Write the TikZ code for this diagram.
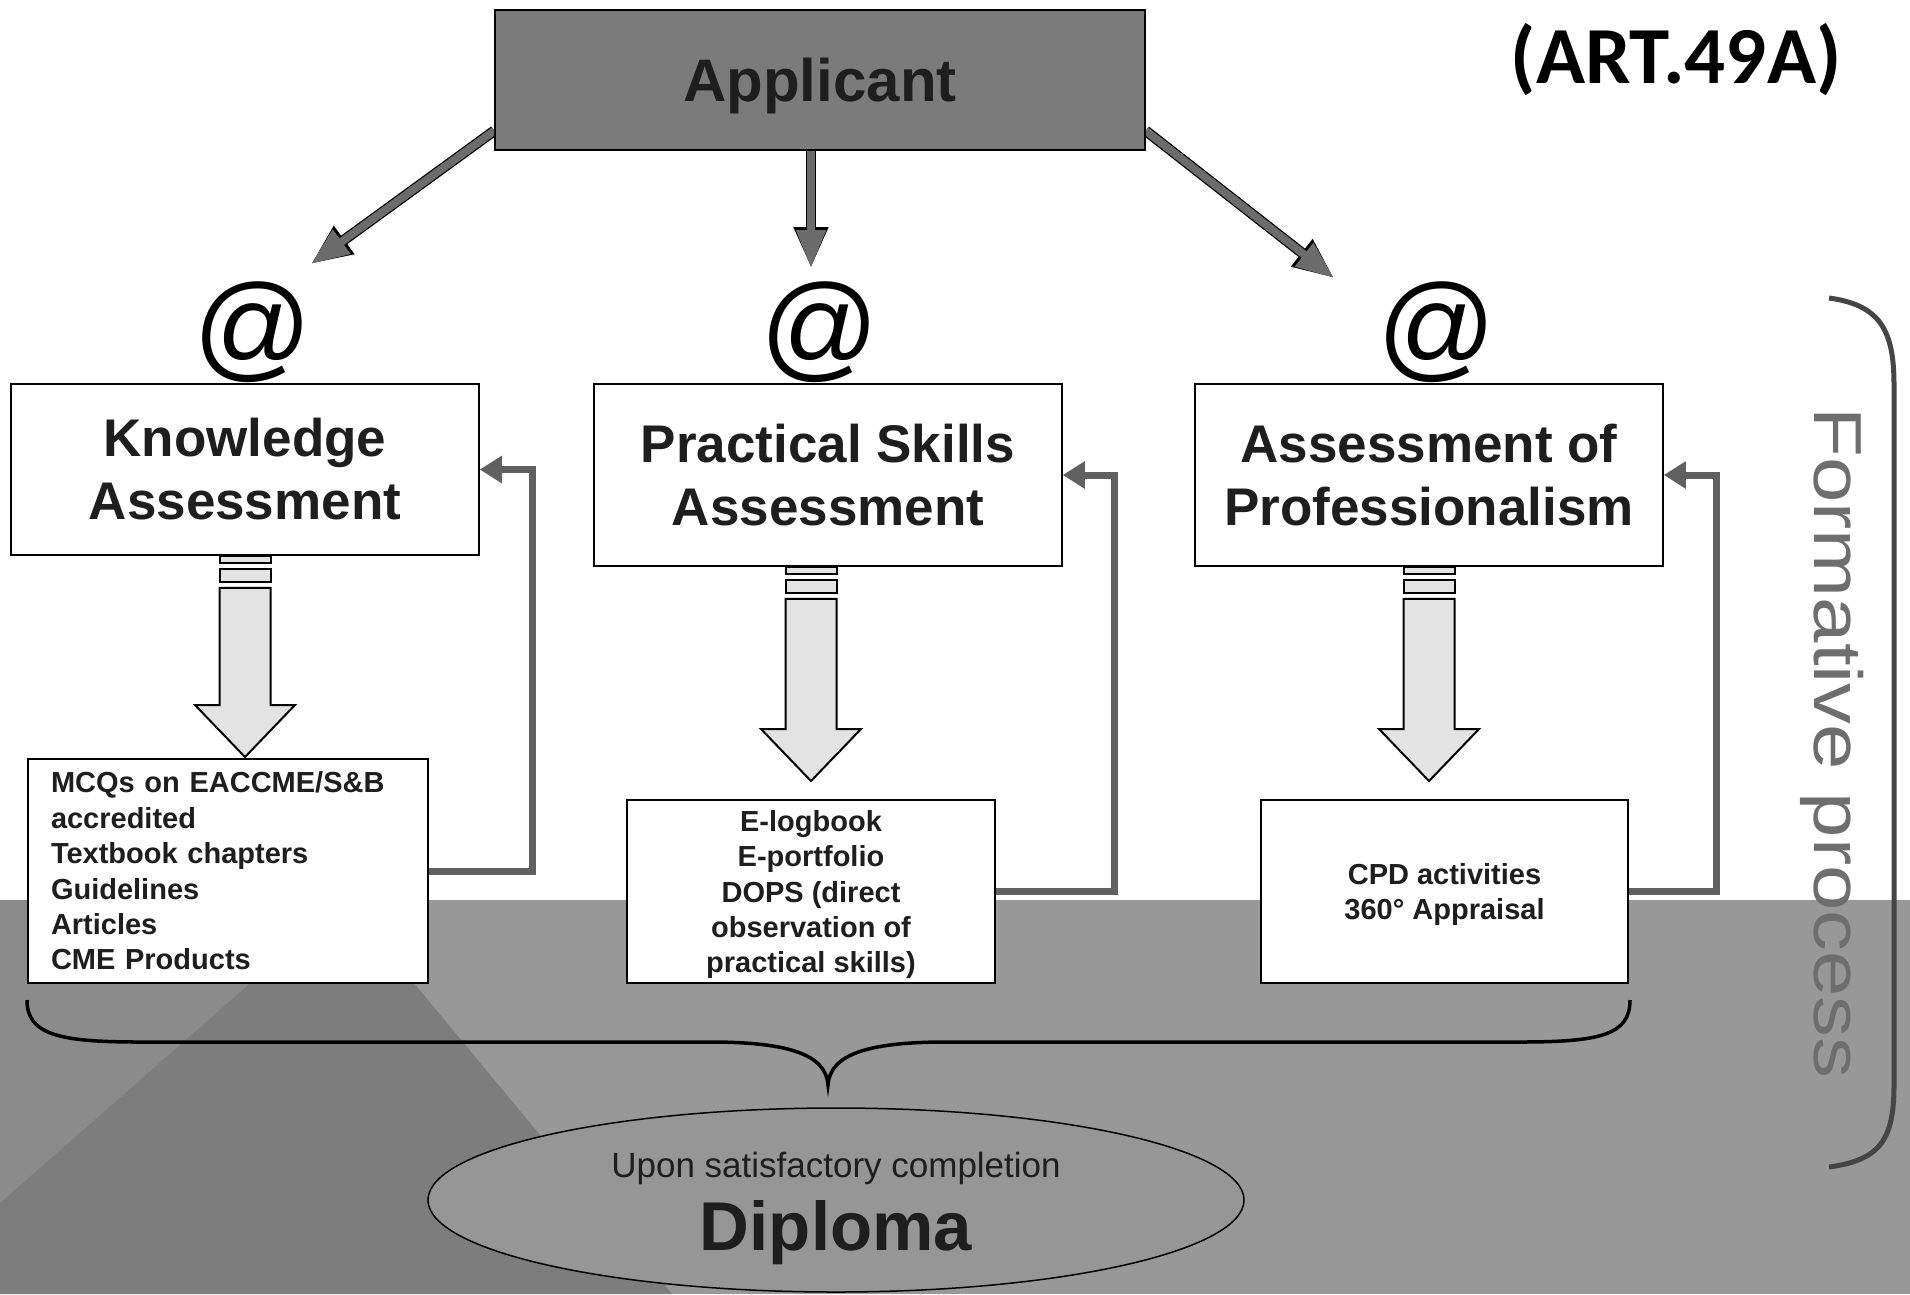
\documentclass[tikz,border=0pt]{standalone}
\usepackage{fontspec}
\setmainfont{Liberation Sans}
\newfontfamily\artfont{Carlito}
\usetikzlibrary{arrows.meta,calc,shapes.geometric,backgrounds}

\definecolor{appgray}{HTML}{7B7B7B}
\definecolor{arrowgray}{HTML}{6C6C6C}
\definecolor{fbgray}{HTML}{606060}
\definecolor{hollowgray}{HTML}{E3E3E3}
\definecolor{bandA}{HTML}{8B8B8B}
\definecolor{bandB}{HTML}{7D7D7D}
\definecolor{bandC}{HTML}{989898}
\definecolor{ellgray}{HTML}{969696}
\definecolor{txtdark}{HTML}{1E1E1E}
\definecolor{formgray}{HTML}{6E6E6E}
\definecolor{bracketgray}{HTML}{454545}

\tikzset{
  applbox/.style={draw=black, line width=1.5pt, fill=appgray, minimum width=650pt, minimum height=140pt,
    text depth=0pt, text=txtdark, font=\fontsize{60}{60}\selectfont\bfseries},
  assessbox/.style={draw=black, line width=1.5pt, fill=white, minimum width=468pt, align=center,
    text=txtdark, font=\fontsize{53}{63}\selectfont\bfseries},
  listbox/.style={draw=black, line width=2pt, fill=white, text=txtdark,
    font=\fontsize{29}{35.4}\selectfont\bfseries},
  atsign/.style={inner sep=0pt, anchor=south, font=\fontsize{117}{117}\selectfont},
  fatarrow/.style={draw=arrowgray, line width=8pt, -{Triangle[length=38pt,width=28pt]},
    preaction={draw=black, line width=10.5pt, -{Triangle[length=41pt,width=32pt]}}},
  fbarrow/.style={draw=fbgray, line width=7pt, -{Triangle[length=22pt,width=26pt]}},
  hollow/.style={draw=black, line width=2pt, fill=hollowgray, line join=miter},
}

\begin{document}
\begin{tikzpicture}[x=1pt,y=-1pt]
  \useasboundingbox (0,0) rectangle (1910,1294);

  \node[applbox] (app) at (820,80) {Applicant};
  \node[font=\artfont\fontsize{81}{81}\selectfont\bfseries] (art) at (1676,60) {(ART.49A)};

  \node[assessbox, minimum height=171pt] (kbox) at (245,469.5) {Knowledge\\Assessment};
  \node[assessbox, minimum height=182pt] (pbox) at (828,475) {Practical Skills\\Assessment};
  \node[assessbox, minimum height=182pt] (abox) at (1429,475) {Assessment of\\Professionalism};

  \node[atsign] (atK) at ([xshift=8pt]kbox.north) {@};
  \node[atsign] (atP) at ([xshift=-8pt]pbox.north) {@};
  \node[atsign] (atA) at ([xshift=8pt]abox.north) {@};

  \node[listbox, text width=354pt, inner xsep=23pt, minimum height=224pt, align=left] (klist) at (228,871)
    {MCQs on EACCME/S\&B\\accredited\\Textbook chapters\\Guidelines\\Articles\\CME Products};
  \node[listbox, text depth=0pt, minimum width=368pt, minimum height=183pt, align=center] (plist) at (811,891.5)
    {E-logbook\\E-portfolio\\DOPS (direct\\observation of\\practical skills)};
  \node[listbox, text depth=0pt, minimum width=367pt, minimum height=183pt, align=center] (alist) at (1444.5,891.5)
    {CPD activities\\360° Appraisal};

  \coordinate (kIn) at (311,264);
  \coordinate (pIn) at (811,268);
  \coordinate (aIn) at (1334,278);

  \begin{scope}[on background layer]
    \fill[white] (0,0) rectangle (1910,1294);
    \fill[bandC] (0,900) rectangle (1910,1294);
    \fill[bandA] (0,900) -- (345,900) -- (0,1203) -- cycle;
    \fill[bandB] (345,900) -- (0,1203) -- (0,1294) -- (672,1294) -- cycle;
    \draw[fatarrow] ([yshift=20pt]app.south west) -- (kIn);
    \draw[fatarrow] ([xshift=-9pt]app.south) -- (pIn);
    \draw[fatarrow] ([yshift=20pt]app.south east) -- (aIn);
  \end{scope}

  \foreach \b/\l/\x/\g in {kbox/klist/245/1, pbox/plist/811/18, abox/alist/1429/18}{
    \coordinate (top) at (\x,0 |- \b.south);
    \coordinate (tip) at ($(\x,0 |- \l.north)+(0,-\g)$);
    \draw[hollow] ($(top)+(-25.5,0)$) rectangle ($(top)+(25.5,7)$);
    \draw[hollow] ($(top)+(-25.5,13)$) rectangle ($(top)+(25.5,26)$);
    \draw[hollow] ($(top)+(-25.5,32)$) -- ($(tip)+(-25.5,-52)$) -- ($(tip)+(-50,-52)$) -- (tip)
      -- ($(tip)+(50,-52)$) -- ($(tip)+(25.5,-52)$) -- ($(top)+(25.5,32)$) -- cycle;
  }

  \draw[fbarrow] (klist.east) -- ++(103,0) |- (kbox.east);
  \draw[fbarrow] (plist.east) -- ++(118,0) |- (pbox.east);
  \draw[fbarrow] (alist.east) -- ++(87,0) |- (abox.east);

  \draw[line width=3.5pt] (27,1000) .. controls (27,1035) and (60,1042) .. (140,1042) -- (710,1042)
    .. controls (790,1042) and (826,1055) .. (828,1085)
    .. controls (830,1055) and (866,1042) .. (946,1042) -- (1520,1042)
    .. controls (1600,1042) and (1630,1035) .. (1630,1000);

  \node[ellipse, draw=black, line width=1.5pt, fill=ellgray, minimum width=816pt, minimum height=184pt,
    inner sep=0pt] (dipl) at (836,1200) {};
  \node[text=txtdark, font=\fontsize{35}{35}\selectfont] (upon) at (836,1168) {Upon satisfactory completion};
  \node[text=txtdark, font=\fontsize{69}{69}\selectfont\bfseries] (diploma) at (836,1233) {Diploma};

  \draw[bracketgray, line width=5pt] (1829,298) .. controls (1880,305) and (1894,330) .. (1894,385)
    -- (1894,1085) .. controls (1894,1140) and (1880,1160) .. (1829,1167);
  \node[rotate=-90, text=formgray, font=\fontsize{68}{68}\selectfont] (form) at (1832,743)
    {\scalebox{1.2}[1]{Formative process}};
\end{tikzpicture}
\end{document}
